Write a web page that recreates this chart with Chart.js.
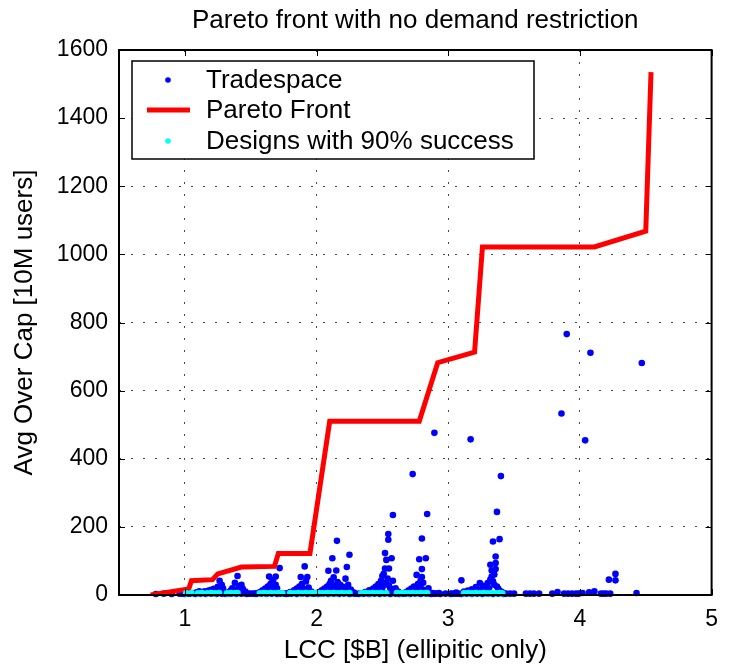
<!DOCTYPE html>
<html>
<head>
<meta charset="utf-8">
<script src="https://cdn.jsdelivr.net/npm/chart.js@4.4.1/dist/chart.umd.min.js"></script>
<style>
  html, body { margin: 0; padding: 0; background: #fff; }
  canvas { display: block; }
</style>
</head>
<body>
<canvas id="chart" width="729" height="665"></canvas>
<script>
// Axis ticks
const xTicks = [1, 2, 3, 4, 5];
const yTicks = [0, 200, 400, 600, 800, 1000, 1200, 1400, 1600];

// Pareto front (LCC in $B, capacity in 10M users)
const paretoCost = [0.74, 1.03, 1.05, 1.21, 1.25, 1.43, 1.68, 1.71, 1.95, 2.10, 2.78, 2.92, 3.20, 3.26, 4.11, 4.50, 4.54];
const paretoCap  = [0,    18,   42,   45,   62,   82,   84,   122,  122,  510,  510,  682,  713,  1022, 1022, 1068, 1535];

// Full tradespace of designs
const tradeCost = [
  0.78, 0.84, 0.90, 0.96, 1.00, 1.04, 1.08, 1.12, 1.16, 1.20, 1.24, 1.28, 1.31, 1.35, 1.39, 1.43, 1.47, 1.50, 1.54, 1.58,
  1.62, 1.66, 1.70, 1.74, 1.77, 1.81, 1.85, 1.89, 1.93, 1.97, 2.01, 2.05, 2.09, 2.13, 2.17, 2.21, 2.25, 2.29, 2.32, 2.36,
  2.40, 2.44, 2.48, 2.52, 2.56, 2.60, 2.63, 2.67, 2.71, 2.75, 2.79, 2.83, 2.87, 2.90, 2.94, 2.98, 3.02, 3.06, 3.10, 3.14,
  3.18, 3.22, 3.26, 3.30, 3.34, 3.38, 3.42,
  3.59, 3.62, 3.65, 3.69, 3.79, 3.83, 3.88, 3.91, 3.94, 3.97, 3.99, 4.02, 4.07, 4.11, 4.16, 4.18, 4.20, 4.23, 4.43,
  1.06, 1.09, 1.11, 1.15, 1.18, 1.20, 1.22, 1.24, 1.25, 1.264, 1.28, 1.29,
  0.98, 1.02, 1.10, 1.14, 1.17, 1.19, 1.23, 1.26, 1.27, 1.30,
  1.33, 1.35, 1.36, 1.38, 1.40, 1.41, 1.43, 1.44, 1.46,
  1.32, 1.34, 1.37, 1.39, 1.40, 1.42, 1.45, 1.48,
  1.54, 1.57, 1.59, 1.61, 1.63, 1.64, 1.65, 1.66, 1.67, 1.69, 1.69, 1.72, 1.70,
  1.52, 1.56, 1.58, 1.60, 1.62, 1.64, 1.66, 1.68, 1.70, 1.73,
  1.78, 1.80, 1.83, 1.85, 1.87, 1.88, 1.89, 1.91, 1.92, 1.93, 1.94, 1.96,
  1.76, 1.79, 1.82, 1.84, 1.86, 1.88, 1.90, 1.92, 1.95, 1.98,
  2.00, 2.02, 2.04, 2.06, 2.08, 2.09, 2.10, 2.11, 2.12, 2.13, 2.15, 2.155, 2.16, 2.18, 2.20, 2.22, 2.23, 2.24, 2.25, 2.26, 2.28,
  2.01, 2.03, 2.05, 2.07, 2.09, 2.11, 2.13, 2.14, 2.17, 2.19, 2.21, 2.23, 2.25, 2.27, 2.30,
  2.34, 2.37, 2.40, 2.43, 2.45, 2.47, 2.49, 2.50, 2.51, 2.52, 2.52, 2.53, 2.54, 2.545, 2.545, 2.55, 2.57, 2.58, 2.58, 2.60, 2.62,
  2.33, 2.35, 2.38, 2.41, 2.44, 2.46, 2.48, 2.50, 2.51, 2.53, 2.55, 2.56, 2.57, 2.59, 2.61, 2.63,
  2.66, 2.68, 2.70, 2.72, 2.74, 2.76, 2.77, 2.78, 2.79, 2.80, 2.80, 2.80, 2.81, 2.83, 2.84, 2.85, 2.88, 2.93,
  2.65, 2.67, 2.69, 2.71, 2.73, 2.75, 2.77, 2.78, 2.79, 2.81, 2.82, 2.84, 2.86, 2.89, 2.91,
  3.02, 3.06, 3.10, 3.12, 3.15, 3.18, 3.21, 3.24, 3.26, 3.27, 3.30, 3.32, 3.33, 3.33, 3.34, 3.35, 3.36, 3.36, 3.36, 3.37, 3.38, 3.39, 3.40, 3.42,
  3.04, 3.08, 3.11, 3.14, 3.17, 3.20, 3.22, 3.25, 3.28, 3.29, 3.31, 3.32, 3.34, 3.35, 3.37, 3.39, 3.41, 3.44, 3.47, 3.50,
  4.22, 4.27, 4.27,
  2.73, 2.895, 3.17, 3.40, 3.86, 3.90, 4.04, 4.08, 4.47
];
const tradeCap = [
  3, 4, 3, 4, 3, 4, 3, 4, 3, 4, 3, 4, 3, 4, 3, 4, 3, 4, 3, 4,
  3, 4, 3, 4, 3, 4, 3, 4, 3, 4, 3, 4, 3, 4, 3, 4, 3, 4, 3, 4,
  3, 4, 3, 4, 3, 4, 3, 4, 3, 4, 3, 4, 3, 4, 3, 4, 3, 4, 3, 4,
  3, 4, 3, 4, 3, 4, 3,
  4, 4, 4, 4, 4, 9, 4, 4, 4, 4, 4, 6, 8, 11, 4, 4, 4, 4, 6,
  6, 8, 11, 11, 13, 15, 18, 15, 24, 42, 30, 20,
  4, 4, 5, 7, 9, 10, 12, 16, 10, 6,
  8, 14, 20, 36, 56, 26, 30, 18, 10,
  4, 6, 9, 12, 16, 20, 6, 4,
  5, 9, 14, 19, 25, 54, 32, 36, 44, 54, 30, 79, 20,
  4, 5, 7, 9, 12, 15, 18, 12, 8, 4,
  5, 9, 14, 19, 25, 53, 33, 84, 40, 53, 22, 10,
  4, 4, 7, 9, 12, 15, 18, 12, 5, 4,
  5, 9, 14, 19, 25, 71, 33, 42, 108, 52, 72, 159, 38, 30, 24, 48, 82, 30, 118, 16, 8,
  4, 5, 7, 9, 12, 15, 20, 28, 14, 11, 9, 14, 10, 5, 4,
  5, 9, 14, 19, 25, 32, 42, 56, 62, 78, 123, 103, 48, 179, 162, 78, 108, 235, 42, 20, 10,
  4, 4, 6, 8, 11, 14, 18, 22, 30, 36, 28, 20, 14, 8, 5, 4,
  5, 9, 14, 19, 25, 59, 32, 105, 42, 76, 166, 53, 36, 108, 238, 20, 6, 6,
  4, 4, 6, 8, 11, 14, 18, 22, 28, 15, 10, 6, 4, 4, 4,
  4, 7, 43, 10, 13, 17, 23, 35, 28, 20, 35, 89, 72, 54, 157, 30, 113, 94, 76, 244, 18, 164, 10, 5,
  4, 4, 5, 6, 8, 10, 12, 15, 17, 24, 20, 45, 40, 60, 25, 12, 8, 4, 4, 4,
  45, 43, 62,
  355, 476, 457, 349, 533, 766, 454, 711, 681
];

// Designs reaching 90% success
const successCost = [
  1.01, 1.05,
  1.10, 1.13,
  1.17, 1.20, 1.23, 1.26,
  1.32, 1.35, 1.38, 1.40,
  1.57, 1.60, 1.62, 1.65, 1.68, 1.71, 1.74,
  1.80, 1.83, 1.86, 1.89, 1.92, 1.95,
  1.97, 2.00, 2.02, 2.05, 2.08, 2.10, 2.13, 2.16, 2.19, 2.22, 2.25,
  2.34, 2.37, 2.40, 2.43, 2.46, 2.49, 2.53,
  2.61, 2.64, 2.67, 2.70, 2.73, 2.76, 2.79, 2.82, 2.84,
  3.12, 3.15, 3.18, 3.21, 3.24, 3.27, 3.30, 3.33, 3.36, 3.39, 3.41
];
const successCap = [
  5, 6,
  5, 6,
  5, 6, 5, 6,
  5, 6, 5, 6,
  5, 6, 5, 6, 5, 6, 5,
  6, 5, 6, 5, 6, 5,
  6, 5, 6, 5, 6, 5, 6, 5, 6, 5, 6,
  5, 6, 5, 6, 5, 6, 5,
  6, 5, 6, 5, 6, 5, 6, 5, 6,
  5, 6, 5, 6, 5, 6, 5, 6, 5, 6, 5
];

const TITLE = 'Pareto front with no demand restriction';
const FONT = '"Liberation Sans", Arial, Helvetica, sans-serif';
const toPoints = (xs, ys) => xs.map((v, i) => ({ x: v, y: ys[i] }));

// Axes box with inward ticks, title centred over the plot, and the boxed legend
const frameAndLegend = {
  id: 'frameAndLegend',
  afterDatasetsDraw(chart) {
    const { ctx, chartArea: a, scales: { x, y } } = chart;
    const tick = 6;
    ctx.save();
    ctx.strokeStyle = '#000';
    ctx.lineWidth = 1;
    ctx.beginPath();
    x.ticks.forEach(t => {
      const px = Math.round(x.getPixelForValue(t.value)) + 0.5;
      ctx.moveTo(px, a.bottom); ctx.lineTo(px, a.bottom - tick);
      ctx.moveTo(px, a.top); ctx.lineTo(px, a.top + tick);
    });
    y.ticks.forEach(t => {
      const py = Math.round(y.getPixelForValue(t.value)) + 0.5;
      ctx.moveTo(a.left, py); ctx.lineTo(a.left + tick, py);
      ctx.moveTo(a.right, py); ctx.lineTo(a.right - tick, py);
    });
    ctx.stroke();
    ctx.lineWidth = 2;
    ctx.strokeRect(a.left, a.top, a.right - a.left, a.bottom - a.top);

    // title
    ctx.fillStyle = '#000';
    ctx.font = '26px ' + FONT;
    ctx.textAlign = 'center';
    ctx.textBaseline = 'alphabetic';
    ctx.fillText(TITLE, (a.left + a.right) / 2, 28);

    // legend
    const ds = chart.data.datasets;
    const bx = a.left + 13, by = a.top + 11, bw = 402, bh = 98;
    ctx.fillStyle = '#fff';
    ctx.fillRect(bx, by, bw, bh);
    ctx.lineWidth = 1.5;
    ctx.strokeStyle = '#000';
    ctx.strokeRect(bx, by, bw, bh);
    const rows = [by + 19, by + 49, by + 80];
    ctx.textBaseline = 'middle';
    ctx.textAlign = 'left';
    ds.forEach((d, i) => {
      const ry = rows[i];
      if (d.showLine) {
        ctx.strokeStyle = d.borderColor;
        ctx.lineWidth = d.borderWidth;
        ctx.beginPath();
        ctx.moveTo(bx + 15, ry); ctx.lineTo(bx + 58, ry);
        ctx.stroke();
      } else {
        ctx.fillStyle = d.backgroundColor;
        ctx.beginPath();
        ctx.arc(bx + 36, ry, 2.8, 0, Math.PI * 2);
        ctx.fill();
      }
      ctx.fillStyle = '#000';
      ctx.fillText(d.label, bx + 74, ry + 1);
    });
    ctx.restore();
  }
};

new Chart(document.getElementById('chart'), {
  type: 'scatter',
  data: {
    datasets: [
      {
        label: 'Tradespace',
        data: toPoints(tradeCost, tradeCap),
        backgroundColor: '#0000ff',
        borderWidth: 0,
        pointRadius: 3.3,
        clip: false,
        order: 3
      },
      {
        label: 'Pareto Front',
        data: toPoints(paretoCost, paretoCap),
        showLine: true,
        borderColor: '#ff0000',
        borderWidth: 5,
        pointRadius: 0,
        fill: false,
        tension: 0,
        order: 2
      },
      {
        label: 'Designs with 90% success',
        data: toPoints(successCost, successCap),
        backgroundColor: '#00ffff',
        borderWidth: 0,
        pointRadius: 3.3,
        clip: false,
        order: 1
      }
    ]
  },
  options: {
    responsive: false,
    animation: false,
    events: [],
    layout: { padding: { left: 0, right: 17, top: 50, bottom: 0 } },
    plugins: {
      legend: { display: false },
      tooltip: { enabled: false },
      title: { display: false }
    },
    scales: {
      x: {
        type: 'linear',
        min: 0.5,
        max: 5,
        afterBuildTicks: s => { s.ticks = xTicks.map(v => ({ value: v })); },
        afterFit: s => { s.height = 70; },
        ticks: {
          color: '#000',
          font: { family: FONT, size: 23 },
          padding: 11,
          maxRotation: 0,
          autoSkip: false,
          callback: v => String(v)
        },
        grid: { color: 'rgba(40,40,40,0.85)', lineWidth: 1, drawTicks: false, borderDash: [2, 10] },
        border: { display: false, dash: [2, 10] },
        title: {
          display: true,
          text: 'LCC [$B] (ellipitic only)',
          color: '#000',
          font: { family: FONT, size: 26, lineHeight: 1.2 },
          padding: { top: 0, bottom: -1 }
        }
      },
      y: {
        type: 'linear',
        min: 0,
        max: 1600,
        afterBuildTicks: s => { s.ticks = yTicks.map(v => ({ value: v })); },
        afterFit: s => { s.width = 119; },
        ticks: {
          color: '#000',
          font: { family: FONT, size: 23 },
          padding: 11,
          autoSkip: false,
          callback: v => String(v)
        },
        grid: { color: 'rgba(40,40,40,0.85)', lineWidth: 1, drawTicks: false, borderDash: [2, 10] },
        border: { display: false, dash: [2, 10] },
        title: {
          display: true,
          text: 'Avg Over Cap [10M users]',
          color: '#000',
          font: { family: FONT, size: 26, lineHeight: 1.2 },
          padding: { top: 9, bottom: 0 }
        }
      }
    }
  },
  plugins: [frameAndLegend]
});
</script>
</body>
</html>
